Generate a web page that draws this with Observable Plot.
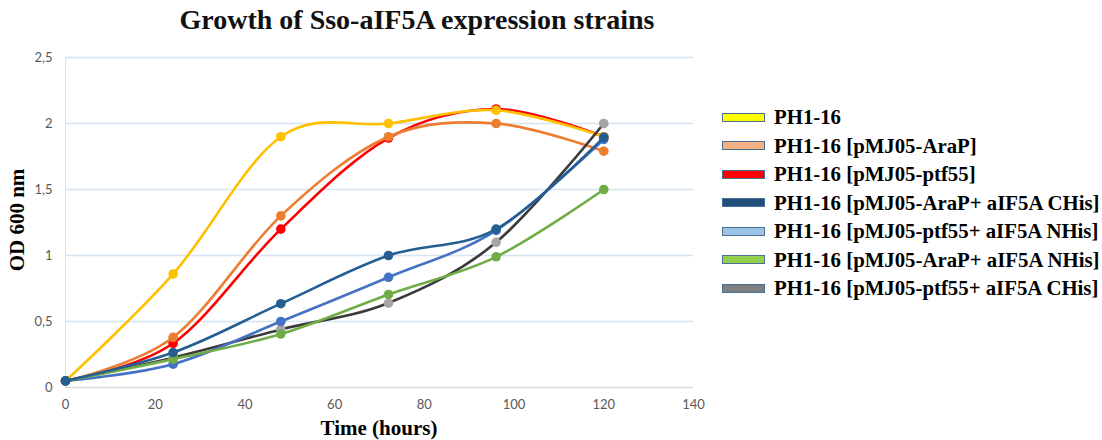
<!DOCTYPE html>
<html>
<head>
<meta charset="utf-8">
<script src="https://cdn.jsdelivr.net/npm/d3@7"></script>
<script src="https://cdn.jsdelivr.net/npm/@observablehq/plot@0.6"></script>
<style>
  html, body { margin: 0; padding: 0; background: #fff; }
  #wrap { position: relative; width: 1102px; height: 440px; overflow: hidden; }
  #title { position: absolute; left: 0; width: 834px; top: 4px; text-align: center;
    font-family: "Liberation Serif", "Times New Roman", serif; font-weight: bold; font-size: 28px; color: #111; }
  #legend { position: absolute; left: 722px; top: 103px; font-family: "Liberation Serif", "Times New Roman", serif;
    font-weight: bold; font-size: 20.8px; color: #000; }
  .row { height: 28.5px; display: flex; align-items: center; white-space: nowrap; }
  .sw { width: 41px; height: 7px; border: 1.5px solid #4a6f94; margin-right: 9px; flex: none; }
  .ylab { position: absolute; left: 17px; top: 220px; transform: translate(-50%, -50%) rotate(-90deg);
    font-family: "Liberation Serif", "Times New Roman", serif; font-weight: bold; font-size: 21px; white-space: nowrap; }
  .xlab { position: absolute; left: 379px; top: 428px; transform: translate(-50%, -50%);
    font-family: "Liberation Serif", "Times New Roman", serif; font-weight: bold; font-size: 21px; white-space: nowrap; }
</style>
</head>
<body>
<div id="wrap">
  <div id="chart"></div>
  <div id="title">Growth of Sso-aIF5A expression strains</div>
  <div class="ylab">OD 600 nm</div>
  <div class="xlab">Time (hours)</div>
  <div id="legend"></div>
</div>
<script>
const hours = [0, 24, 48, 72, 96, 120];
const seriesNames = [
  "PH1-16",
  "PH1-16 [pMJ05-AraP]",
  "PH1-16 [pMJ05-ptf55]",
  "PH1-16 [pMJ05-AraP+ aIF5A CHis]",
  "PH1-16 [pMJ05-ptf55+ aIF5A NHis]",
  "PH1-16 [pMJ05-AraP+ aIF5A NHis]",
  "PH1-16 [pMJ05-ptf55+ aIF5A CHis]"
];
const legendPrefix = ["PH1-16", "PH1-16 [pMJ05-AraP]", "PH1-16 [pMJ05-ptf55]",
  "PH1-16 [pMJ05-AraP+ ", "PH1-16 [pMJ05-ptf55+ ", "PH1-16 [pMJ05-AraP+ ", "PH1-16 [pMJ05-ptf55+ "];
const legendSuffix = ["", "", "", "aIF5A CHis]", "aIF5A NHis]", "aIF5A NHis]", "aIF5A CHis]"];
const odPH116      = [0.05, 0.86, 1.90, 2.00, 2.10, 1.90];
const odAraP       = [0.05, 0.38, 1.30, 1.90, 2.00, 1.79];
const odPtf55      = [0.05, 0.335, 1.20, 1.89, 2.11, 1.90];
const odAraPCHis   = [0.05, 0.265, 0.635, 1.00, 1.20, 1.895];
const odPtf55NHis  = [0.05, 0.177, 0.50, 0.835, 1.19, 1.88];
const odAraPNHis   = [0.05, 0.215, 0.405, 0.705, 0.99, 1.50];
const odPtf55CHis  = [0.05, 0.225, 0.44, 0.64, 1.10, 2.00];
const seriesValues = [odPH116, odAraP, odPtf55, odAraPCHis, odPtf55NHis, odAraPNHis, odPtf55CHis];
const lineColors   = ["#FFC000", "#ED7D31", "#FF0000", "#255E91", "#4472C4", "#70AD47", "#3A3A3A"];
const markerColors = ["#FFC000", "#ED7D31", "#FF0000", "#255E91", "#4472C4", "#70AD47", "#A5A5A5"];
const swatchColors = ["#FFFF00", "#F4B183", "#FF0000", "#1F4E79", "#9DC3E6", "#92D050", "#7F7F7F"];
const xTicks = [0, 20, 40, 60, 80, 100, 120, 140];
const yTicks = [0, 0.5, 1, 1.5, 2, 2.5];
const drawOrder = [2, 1, 0, 6, 4, 5, 3];

const marks = [
  Plot.gridY(yTicks.slice(1), {stroke: "#d6e3f0", strokeOpacity: 1, strokeWidth: 1.3}),
  Plot.ruleY([0], {stroke: "#d9d9d9", strokeWidth: 1.3}),
  Plot.ruleX([0], {stroke: "#e3e3e3", strokeWidth: 1}),
  Plot.axisX(xTicks, {tickSize: 0, tickPadding: 12, fontSize: 13, fill: "#595959", label: null,
    fontFamily: "Lato, sans-serif"}),
  Plot.axisY(yTicks, {tickSize: 0, tickPadding: 13, fontSize: 13, fill: "#595959", label: null,
    fontFamily: "Lato, sans-serif", tickFormat: d => String(d).replace(".", ",")})
];
for (const i of drawOrder) {
  const rows = hours.map((h, j) => ({h, v: seriesValues[i][j]}));
  marks.push(Plot.line(rows, {x: "h", y: "v", stroke: lineColors[i], strokeWidth: 2.6, curve: "cardinal"}));
  marks.push(Plot.dot(rows, {x: "h", y: "v", r: 4.8, fill: markerColors[i], stroke: "none"}));
}

const chart = Plot.plot({
  width: 1102, height: 440,
  marginLeft: 65, marginRight: 409, marginTop: 57, marginBottom: 53,
  x: {domain: [0, 140]},
  y: {domain: [0, 2.5]},
  style: {background: "#fff"},
  marks
});
document.getElementById("chart").appendChild(chart);

const legend = document.getElementById("legend");
seriesNames.forEach((name, i) => {
  const row = document.createElement("div");
  row.className = "row";
  const sw = document.createElement("div");
  sw.className = "sw";
  sw.style.background = swatchColors[i];
  row.appendChild(sw);
  const t = document.createElement("span");
  t.textContent = legendPrefix[i];
  t.style.whiteSpace = "pre";
  row.appendChild(t);
  if (legendSuffix[i]) {
    const b = document.createElement("span");
    b.textContent = legendSuffix[i];
    b.style.fontWeight = "900";
    row.appendChild(b);
  }
  row.title = name;
  legend.appendChild(row);
});
</script>
</body>
</html>
